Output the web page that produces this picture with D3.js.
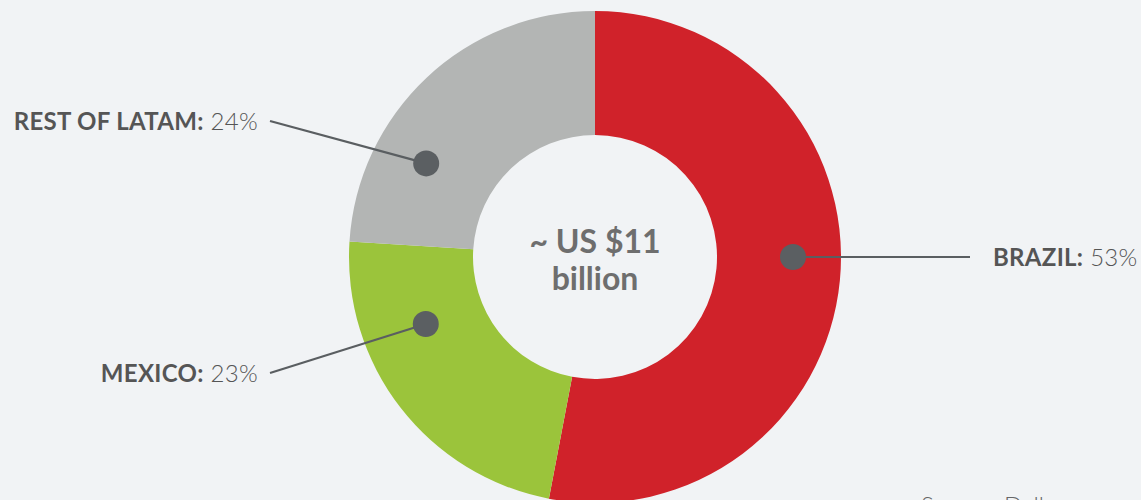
<!DOCTYPE html>
<html>
<head>
<meta charset="utf-8">
<script src="https://cdn.jsdelivr.net/npm/d3@7"></script>
<style>
  html, body { margin: 0; padding: 0; background: #f1f3f5; }
  svg { display: block; font-family: Lato, "Open Sans", sans-serif; }
</style>
</head>
<body>
<svg width="1141" height="500"></svg>
<script>
// market split
var categories = ["BRAZIL", "MEXICO", "REST OF LATAM"];
var shares = [53, 23, 24];
var colors = ["#d0222a", "#9bc43b", "#b3b5b4"];
var centerLines = ["~ US $11", "billion"];
var sourceText = "Source: Dalberg";

// where the callout dot sits (deg clockwise from 12 o'clock, px from centre) and where its label goes
var callouts = [
  { angle: 90, r: 198, lx: 970, ly: 257, tx: 993, anchor: "start" },
  { angle: 248.4, r: 182, lx: 270, ly: 373, tx: 258, anchor: "end" },
  { angle: 299, r: 193, lx: 270, ly: 121, tx: 258, anchor: "end" }
];

var svg = d3.select("svg"),
  width = +svg.attr("width"),
  height = +svg.attr("height"),
  cx = 595, cy = 257,
  outerR = 246, innerR = 122;

var g = svg.append("g").attr("transform", "translate(" + cx + "," + cy + ")");

var data = categories.map(function(c, i) { return { name: c, value: shares[i], color: colors[i] }; });

var pie = d3.pie()
  .sort(null)
  .value(function(d) { return d.value; });

var arc = d3.arc()
  .innerRadius(innerR)
  .outerRadius(outerR);

g.selectAll(".slice")
  .data(pie(data))
  .enter().append("path")
  .attr("class", "slice")
  .attr("d", arc)
  .attr("fill", function(d) { return d.data.color; });

// centre text
g.selectAll(".center")
  .data(centerLines)
  .enter().append("text")
  .attr("class", "center")
  .attr("text-anchor", "middle")
  .attr("y", function(d, i) { return -4 + i * 37; })
  .style("font-size", "32px")
  .style("font-weight", 700)
  .style("fill", "#6e6e6e")
  .text(function(d) { return d; });

function polar(a, r) {
  var rad = a * Math.PI / 180;
  return [cx + r * Math.sin(rad), cy - r * Math.cos(rad)];
}

var notes = svg.selectAll(".note")
  .data(data)
  .enter().append("g")
  .attr("class", "note");

notes.append("line")
  .attr("x1", function(d, i) { return polar(callouts[i].angle, callouts[i].r)[0]; })
  .attr("y1", function(d, i) { return polar(callouts[i].angle, callouts[i].r)[1]; })
  .attr("x2", function(d, i) { return callouts[i].lx; })
  .attr("y2", function(d, i) { return callouts[i].ly; })
  .style("stroke", "#5a5e61")
  .style("stroke-width", 2.2);

notes.append("circle")
  .attr("cx", function(d, i) { return polar(callouts[i].angle, callouts[i].r)[0]; })
  .attr("cy", function(d, i) { return polar(callouts[i].angle, callouts[i].r)[1]; })
  .attr("r", 13)
  .style("fill", "#5b5f62");

var label = notes.append("text")
  .attr("x", function(d, i) { return callouts[i].tx; })
  .attr("y", function(d, i) { return callouts[i].ly + 9; })
  .attr("text-anchor", function(d, i) { return callouts[i].anchor; })
  .style("font-size", "24px")
  .style("letter-spacing", "0.3px")
  .style("fill", "#555");

label.append("tspan")
  .style("font-weight", 700)
  .text(function(d) { return d.name + ":"; });

label.append("tspan")
  .style("font-weight", 300)
  .text(function(d) { return " " + d.value + "%"; });

// source line, cut by the bottom edge as in the original
svg.append("text")
  .attr("x", 921)
  .attr("y", 514)
  .style("font-size", "24px")
  .style("font-weight", 300)
  .style("fill", "#666")
  .text(sourceText);
</script>
</body>
</html>
